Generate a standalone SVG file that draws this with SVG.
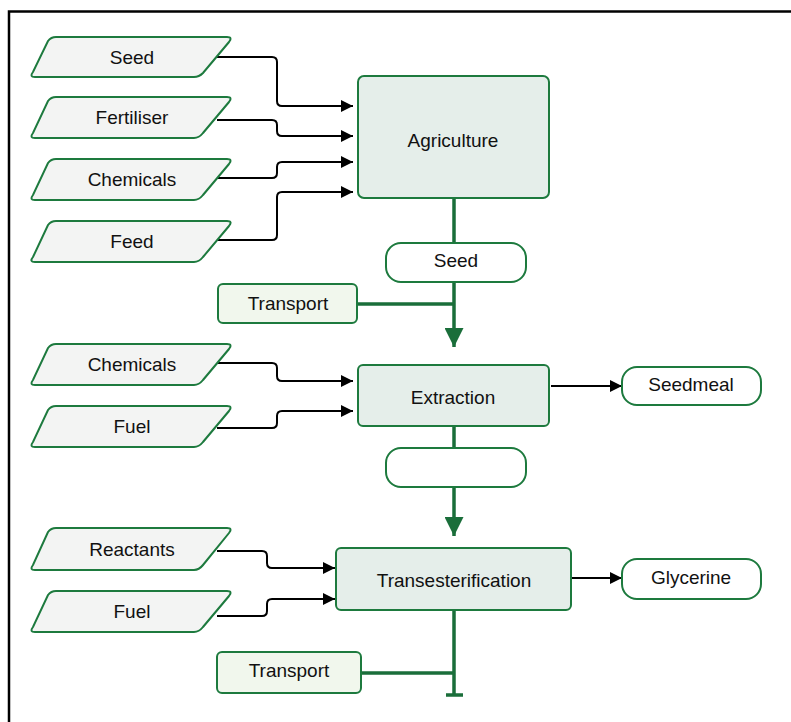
<svg xmlns="http://www.w3.org/2000/svg" width="791" height="722" viewBox="0 0 791 722">
<defs>
<style>
text{font-family:"Liberation Sans",Arial,sans-serif;font-size:19px;fill:#111;text-anchor:middle;dominant-baseline:central}
.para{fill:#f3f4f3;stroke:#1d7a3e;stroke-width:2}
.proc{fill:#e5eeea;stroke:#1d7a3e;stroke-width:2}
.pill{fill:#fff;stroke:#1d7a3e;stroke-width:2}
.trans{fill:#f1f7ed;stroke:#1d7a3e;stroke-width:2}
.blk{fill:none;stroke:#000;stroke-width:2}
.grn{fill:none;stroke:#1a6e3a;stroke-width:3.5}
</style>
<marker id="ab" viewBox="0 0 10 10" refX="10" refY="5" markerWidth="17" markerHeight="12" markerUnits="userSpaceOnUse" orient="auto"><path d="M0,0L10,5L0,10Z" fill="#000"/></marker>
<marker id="ag" viewBox="0 0 10 10" refX="10" refY="5" markerWidth="24" markerHeight="19" markerUnits="userSpaceOnUse" orient="auto"><path d="M0,0L10,5L0,10Z" fill="#1a6e3a"/></marker>
</defs>
<path d="M9,722V11.5H791" fill="none" stroke="#000" stroke-width="2.5"/>
<g id="connectors">
<path class="blk" marker-end="url(#ab)" d="M217,57H272Q277,57 277,62V101Q277,106 282,106H353"/>
<path class="blk" marker-end="url(#ab)" d="M217,120H272Q277,120 277,125V131Q277,136 282,136H353"/>
<path class="blk" marker-end="url(#ab)" d="M217,178H272Q277,178 277,173V167Q277,162 282,162H353"/>
<path class="blk" marker-end="url(#ab)" d="M217,240H272Q277,240 277,235V197Q277,192 282,192H353"/>
<path class="blk" marker-end="url(#ab)" d="M217,363H272Q277,363 277,368V376Q277,381 282,381H353"/>
<path class="blk" marker-end="url(#ab)" d="M217,428H272Q277,428 277,423V416Q277,411 282,411H353"/>
<path class="blk" marker-end="url(#ab)" d="M217,551H262Q267,551 267,556V563Q267,568 272,568H335"/>
<path class="blk" marker-end="url(#ab)" d="M217,616H262Q267,616 267,611V604Q267,599 272,599H335"/>
<path class="blk" marker-end="url(#ab)" d="M551,386H622"/>
<path class="blk" marker-end="url(#ab)" d="M571,578H622"/>
<path class="grn" d="M454,198V243"/>
<path class="grn" marker-end="url(#ag)" d="M454,282V347"/>
<path class="grn" d="M357,304H454"/>
<path class="grn" d="M454,426V448"/>
<path class="grn" marker-end="url(#ag)" d="M454,487V536"/>
<path class="grn" d="M454,610V695M446,695H463M361,673H454"/>
</g>
<g id="in-seed"><path class="para" d="M56,37H227Q233,37 229,42L203,73Q199,77 194,77H35Q29,77 33,72L48,41Q51,37 56,37Z"/><text x="132" y="57">Seed</text></g>
<g id="in-fertiliser"><path class="para" d="M56,97H227Q233,97 229,102L203,133Q199,138 194,138H35Q29,138 33,133L48,101Q51,97 56,97Z"/><text x="132" y="117">Fertiliser</text></g>
<g id="in-chemicals1"><path class="para" d="M56,159H227Q233,159 229,164L203,195Q199,200 194,200H35Q29,200 33,195L48,163Q51,159 56,159Z"/><text x="132" y="179">Chemicals</text></g>
<g id="in-feed"><path class="para" d="M56,221H227Q233,221 229,226L203,257Q199,262 194,262H35Q29,262 33,257L48,225Q51,221 56,221Z"/><text x="132" y="241">Feed</text></g>
<g id="agriculture"><rect class="proc" x="358" y="76" width="191" height="122" rx="6"/><text x="453" y="140">Agriculture</text></g>
<g id="seed-out"><rect class="pill" x="386" y="243" width="140" height="39" rx="15"/><text x="456" y="260">Seed</text></g>
<g id="transport1"><rect class="trans" x="218" y="284" width="139" height="39" rx="5"/><text x="288" y="303">Transport</text></g>
<g id="in-chemicals2"><path class="para" d="M56,344H227Q233,344 229,349L203,380Q199,385 194,385H35Q29,385 33,380L48,348Q51,344 56,344Z"/><text x="132" y="364">Chemicals</text></g>
<g id="in-fuel1"><path class="para" d="M56,406H227Q233,406 229,411L203,442Q199,447 194,447H35Q29,447 33,442L48,410Q51,406 56,406Z"/><text x="132" y="426">Fuel</text></g>
<g id="extraction"><rect class="proc" x="358" y="365" width="191" height="61" rx="5"/><text x="453" y="397">Extraction</text></g>
<g id="seedmeal"><rect class="pill" x="622" y="367" width="139" height="38" rx="15"/><text x="691" y="384">Seedmeal</text></g>
<g id="blank-out"><rect class="pill" x="386" y="448" width="140" height="39" rx="15"/></g>
<g id="in-reactants"><path class="para" d="M56,528H227Q233,528 229,533L203,565Q199,570 194,570H35Q29,570 33,565L48,532Q51,528 56,528Z"/><text x="132" y="549">Reactants</text></g>
<g id="in-fuel2"><path class="para" d="M56,591H227Q233,591 229,596L203,627Q199,632 194,632H35Q29,632 33,627L48,595Q51,591 56,591Z"/><text x="132" y="611">Fuel</text></g>
<g id="transesterification"><rect class="proc" x="336" y="548" width="235" height="62" rx="5"/><text x="454" y="580">Transesterification</text></g>
<g id="glycerine"><rect class="pill" x="622" y="559" width="139" height="40" rx="15"/><text x="691" y="577">Glycerine</text></g>
<g id="transport2"><rect class="trans" x="217" y="652" width="144" height="41" rx="5"/><text x="289" y="670">Transport</text></g>
</svg>
